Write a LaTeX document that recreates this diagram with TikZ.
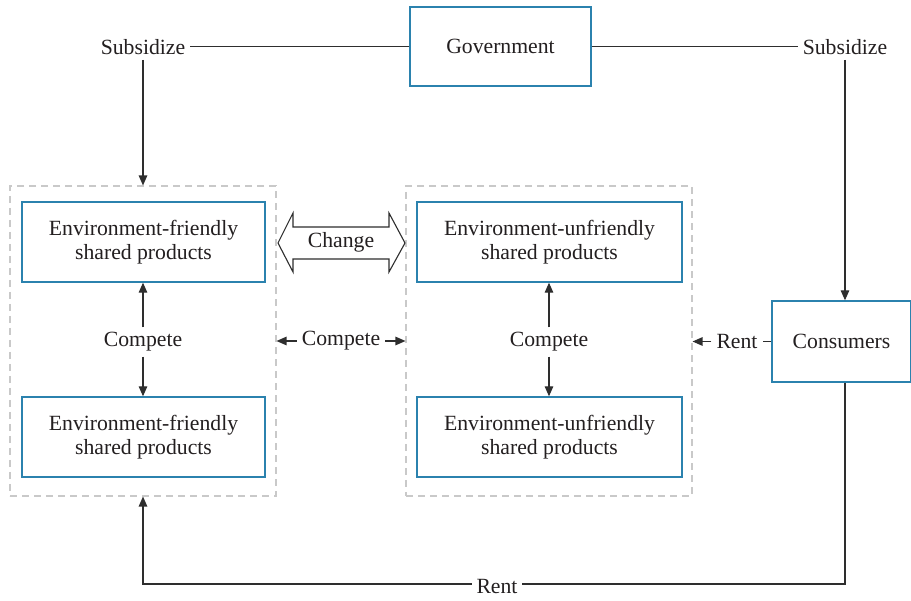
\documentclass[tikz,border=0pt]{standalone}
\usepackage{fontspec}
\setmainfont{Liberation Serif}
\usetikzlibrary{arrows.meta}
\definecolor{boxblue}{HTML}{2B82AE}
\definecolor{framegray}{HTML}{C9C9C9}
\definecolor{ink}{HTML}{231F20}
\definecolor{wire}{HTML}{2E2E2E}
\begin{document}
\begin{tikzpicture}[x=1pt,y=-1pt,
  font=\fontsize{21.7}{24.5}\selectfont,
  every node/.style={text=ink},
  actor/.style={draw=boxblue,line width=1.3pt,fill=white,align=center,inner sep=0pt},
  frame/.style={draw=framegray,line width=1.1pt,dash pattern=on 7pt off 5pt,inner sep=0pt},
  tag/.style={inner sep=5pt,fill=white},
  wireline/.style={draw=wire,line width=1.2pt},
  arr/.style={wireline,-{Triangle[length=10pt,width=8.5pt]}}
]
\useasboundingbox (0,0) rectangle (911,601);

% dashed frames around the two product groups
\node[frame,minimum width=266pt,minimum height=310pt] (lf) at (143,341) {};
\node[frame,minimum width=286pt,minimum height=310pt] (rf) at (549,341) {};

% actors
\node[actor,minimum width=181pt,minimum height=79pt] (gov) at (500.5,46.5) {Government};
\node[actor,minimum width=139pt,minimum height=81pt] (cons) at (841.5,341.5) {Consumers};

% product boxes
\node[actor,minimum width=243pt,minimum height=80pt] (ef1) at (143.5,242) {Environment-friendly\\shared products};
\node[actor,minimum width=243pt,minimum height=80pt] (ef2) at (143.5,437) {Environment-friendly\\shared products};
\node[actor,minimum width=265pt,minimum height=80pt] (eu1) at (549.5,242) {Environment-unfriendly\\shared products};
\node[actor,minimum width=265pt,minimum height=80pt] (eu2) at (549.5,437) {Environment-unfriendly\\shared products};

% subsidies from the government
\node[tag] (subl) at (143,47) {Subsidize};
\node[tag] (subr) at (845,47) {Subsidize};
\draw[wireline] (gov.west) -- (gov.west -| subl.east);
\draw[wireline] (gov.east) -- (gov.east -| subr.west);
\draw[arr] (subl.south) -- (subl.south |- lf.north);
\draw[arr] (subr.south) -- (subr.south |- cons.north);

% competition inside each group
\node[tag] (cl) at (143,342) {Compete};
\draw[arr] (cl.north) -- (cl.north |- ef1.south);
\draw[arr] (cl.south) -- (cl.south |- ef2.north);
\node[tag] (cr) at (549,342) {Compete};
\draw[arr] (cr.north) -- (cr.north |- eu1.south);
\draw[arr] (cr.south) -- (cr.south |- eu2.north);

% competition between the groups
\node[tag] (cm) at (341,341) {Compete};
\draw[arr] (cm.west) -- (cm.west -| lf.east);
\draw[arr] (cm.east) -- (cm.east -| rf.west);

% change between the groups (hollow double arrow)
\draw[wire,line width=1.1pt,fill=white,line join=miter]
  (278,243) -- (293,213) -- (293,227) -- (389,227) -- (389,213) -- (405,243)
  -- (389,272) -- (389,259) -- (293,259) -- (293,272) -- cycle;
\node (chg) at (341,242) {Change};

% renting by consumers
\node[tag] (rent1) at (737,341.5) {Rent};
\draw[wireline] (rent1.east -| cons.west) -- (rent1.east);
\draw[arr] (rent1.west) -- (rent1.west -| rf.east);

\coordinate (b1) at (845,584);
\coordinate (b2) at (143,584);
\draw[arr] (cons.south -| b1) -- (b1) -- (b2) -- (b2 |- lf.south);
\node[tag] (rent2) at (497,587) {Rent};
\end{tikzpicture}
\end{document}
